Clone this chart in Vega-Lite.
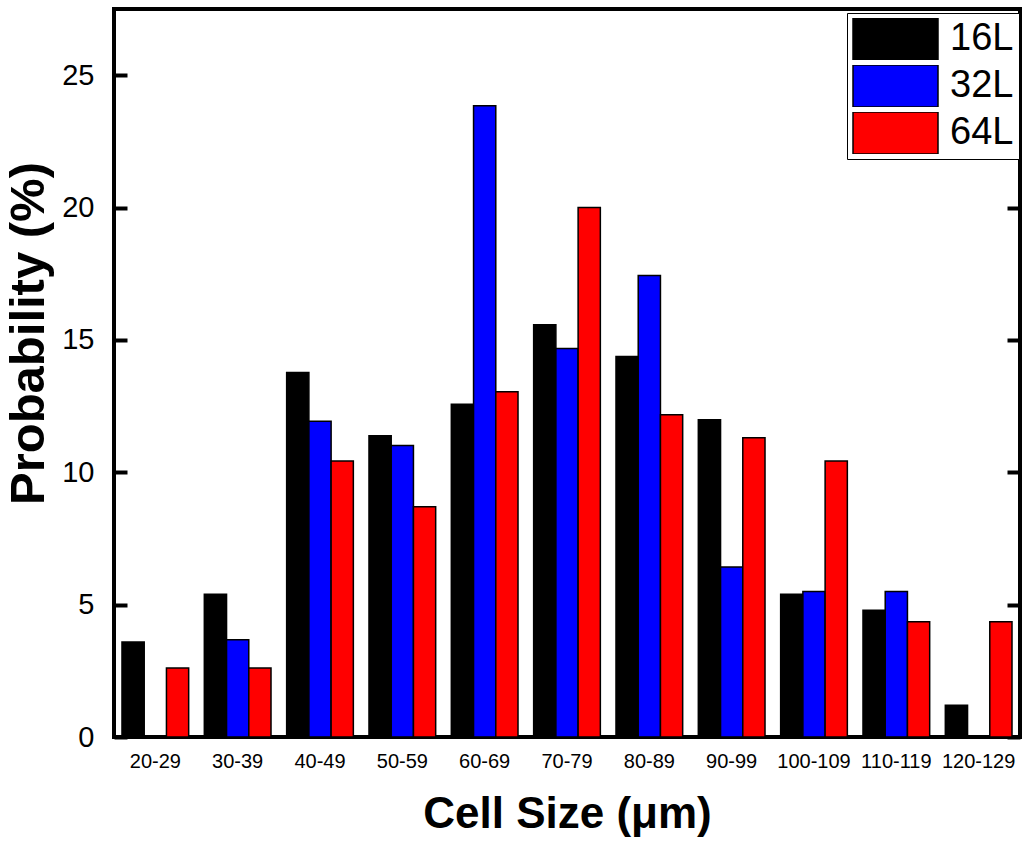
{
  "$schema": "https://vega.github.io/schema/vega-lite/v6.json",
  "width": 906,
  "height": 728,
  "autosize": {"type": "none"},
  "padding": {"left": 114, "top": 9, "right": 6, "bottom": 109},
  "background": "white",
  "config": {
    "view": {"stroke": "black", "strokeWidth": 4},
    "font": "Liberation Sans"
  },
  "data": {
    "values": [
      {"size": "20-29", "series": "16L", "prob": 3.59},
      {"size": "30-39", "series": "16L", "prob": 5.39},
      {"size": "40-49", "series": "16L", "prob": 13.77},
      {"size": "50-59", "series": "16L", "prob": 11.38},
      {"size": "60-69", "series": "16L", "prob": 12.57},
      {"size": "70-79", "series": "16L", "prob": 15.57},
      {"size": "80-89", "series": "16L", "prob": 14.37},
      {"size": "90-99", "series": "16L", "prob": 11.98},
      {"size": "100-109", "series": "16L", "prob": 5.39},
      {"size": "110-119", "series": "16L", "prob": 4.79},
      {"size": "120-129", "series": "16L", "prob": 1.2},
      {"size": "20-29", "series": "32L", "prob": 0},
      {"size": "30-39", "series": "32L", "prob": 3.67},
      {"size": "40-49", "series": "32L", "prob": 11.93},
      {"size": "50-59", "series": "32L", "prob": 11.01},
      {"size": "60-69", "series": "32L", "prob": 23.85},
      {"size": "70-79", "series": "32L", "prob": 14.68},
      {"size": "80-89", "series": "32L", "prob": 17.43},
      {"size": "90-99", "series": "32L", "prob": 6.42},
      {"size": "100-109", "series": "32L", "prob": 5.5},
      {"size": "110-119", "series": "32L", "prob": 5.5},
      {"size": "120-129", "series": "32L", "prob": 0},
      {"size": "20-29", "series": "64L", "prob": 2.61},
      {"size": "30-39", "series": "64L", "prob": 2.61},
      {"size": "40-49", "series": "64L", "prob": 10.43},
      {"size": "50-59", "series": "64L", "prob": 8.7},
      {"size": "60-69", "series": "64L", "prob": 13.04},
      {"size": "70-79", "series": "64L", "prob": 20.0},
      {"size": "80-89", "series": "64L", "prob": 12.17},
      {"size": "90-99", "series": "64L", "prob": 11.3},
      {"size": "100-109", "series": "64L", "prob": 10.43},
      {"size": "110-119", "series": "64L", "prob": 4.35},
      {"size": "120-129", "series": "64L", "prob": 4.35}
    ]
  },
  "encoding": {
    "x": {
      "field": "size",
      "type": "nominal",
      "sort": ["20-29", "30-39", "40-49", "50-59", "60-69", "70-79", "80-89", "90-99", "100-109", "110-119", "120-129"],
      "scale": {"paddingInner": 0.19, "paddingOuter": 0.097},
      "axis": {
        "domain": false,
        "ticks": false,
        "labelFontSize": 20,
        "labelAngle": 0,
        "labelPadding": 14,
        "labelColor": "black",
        "title": "Cell Size (μm)",
        "titleFontSize": 44,
        "titleFontWeight": "bold",
        "titleColor": "black",
        "titleY": 90,
        "titleBaseline": "alphabetic"
      }
    },
    "xOffset": {
      "field": "series",
      "type": "nominal",
      "sort": ["16L", "32L", "64L"],
      "scale": {"paddingInner": 0, "paddingOuter": 0}
    }
  },
  "layer": [
    {
      "mark": {"type": "bar", "stroke": "black", "strokeWidth": 1.5},
      "encoding": {
        "y": {
          "field": "prob",
          "type": "quantitative",
          "scale": {"domain": [0, 27.5], "nice": false},
          "axis": {
            "orient": "left",
            "values": [0, 5, 10, 15, 20, 25],
            "domain": false,
            "grid": false,
            "tickSize": -13,
            "tickWidth": 4,
            "tickColor": "black",
            "labelFontSize": 29,
            "labelColor": "black",
            "labelPadding": 33,
            "title": "Probability (%)",
            "titleFontSize": 49,
            "titleFontWeight": "bold",
            "titleColor": "black",
            "titleX": -71,
            "titleY": 324,
            "titleBaseline": "alphabetic"
          }
        },
        "color": {
          "field": "series",
          "type": "nominal",
          "scale": {"domain": ["16L", "32L", "64L"], "range": ["#000000", "#0000ff", "#ff0000"]},
          "legend": {
            "orient": "none",
            "legendX": 733,
            "legendY": 4,
            "title": null,
            "direction": "vertical",
            "symbolType": "M-1,-0.494H1V0.494H-1Z",
            "symbolSize": 7225,
            "symbolStrokeColor": "black",
            "symbolStrokeWidth": 1.5,
            "symbolOpacity": 1,
            "clipHeight": 42,
            "labelFontSize": 38,
            "labelOffset": 11,
            "labelColor": "black",
            "strokeColor": "black",
            "fillColor": "white",
            "padding": 5,
            "rowPadding": 5
          }
        }
      }
    },
    {
      "mark": {"type": "bar", "opacity": 0},
      "encoding": {
        "y": {
          "field": "prob",
          "type": "quantitative",
          "scale": {"domain": [0, 27.5], "nice": false},
          "axis": {
            "orient": "right",
            "values": [0, 5, 10, 15, 20, 25],
            "domain": false,
            "grid": false,
            "labels": false,
            "tickSize": -13,
            "tickWidth": 4,
            "tickColor": "black",
            "title": null
          }
        }
      }
    }
  ],
  "resolve": {"axis": {"y": "independent"}}
}
